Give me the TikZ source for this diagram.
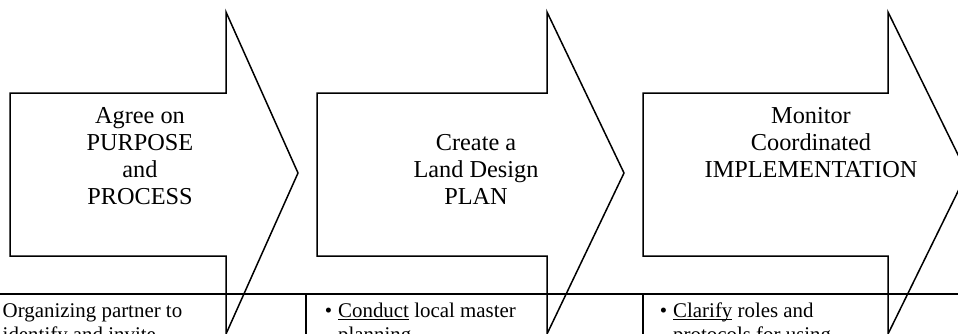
\documentclass[tikz,border=0pt]{standalone}
\usepackage{fontspec}
\setmainfont{Liberation Serif}
\newcommand{\keyword}[1]{\underline{\smash{#1}}}

\begin{document}
\begin{tikzpicture}[
  x=1pt, y=-1pt,
  arrowshape/.style={draw, line width=1.5pt, line join=miter},
  tableline/.style={draw, line width=1.5pt},
  steptitle/.style={align=center, inner sep=0pt, anchor=base, font=\fontsize{24.3}{27}\selectfont},
  celltext/.style={align=left, inner sep=0pt, anchor=base west, font=\fontsize{20.9}{24}\selectfont}
]
\clip (0,0) rectangle (958,333);

% the three step arrows
\draw[arrowshape] (10,93) -- (226,93) -- (226,12) -- (298,173) -- (226,334) -- (226,256) -- (10,256) -- cycle;
\draw[arrowshape] (317,93) -- (547,93) -- (547,12) -- (624,173) -- (547,334) -- (547,256) -- (317,256) -- cycle;
\draw[arrowshape] (643,93) -- (888,93) -- (888,12) -- (967,173) -- (888,334) -- (888,256) -- (643,256) -- cycle;

\node[steptitle] (purpose) at (140,204) {Agree on\\PURPOSE\\and\\PROCESS};
\node[steptitle] (plan) at (476,204) {Create a\\Land Design\\PLAN};
\node[steptitle] (monitor) at (811,177) {Monitor\\Coordinated\\IMPLEMENTATION};

% table below
\draw[tableline] (0,294) -- (958,294);
\draw[tableline] (306,294) -- (306,340);
\draw[tableline] (643,294) -- (643,340);

\node[celltext] (organize) at (2.5,341.5) {Organizing partner to\\identify and invite};
\node[celltext] (conduct) at (338,341.5) {\llap{\textbullet\hspace{6pt}}\keyword{Conduct} local master\\planning};
\node[celltext] (clarify) at (673,341.5) {\llap{\textbullet\hspace{6pt}}\keyword{Clarify} roles and\\protocols for using};
\end{tikzpicture}
\end{document}
